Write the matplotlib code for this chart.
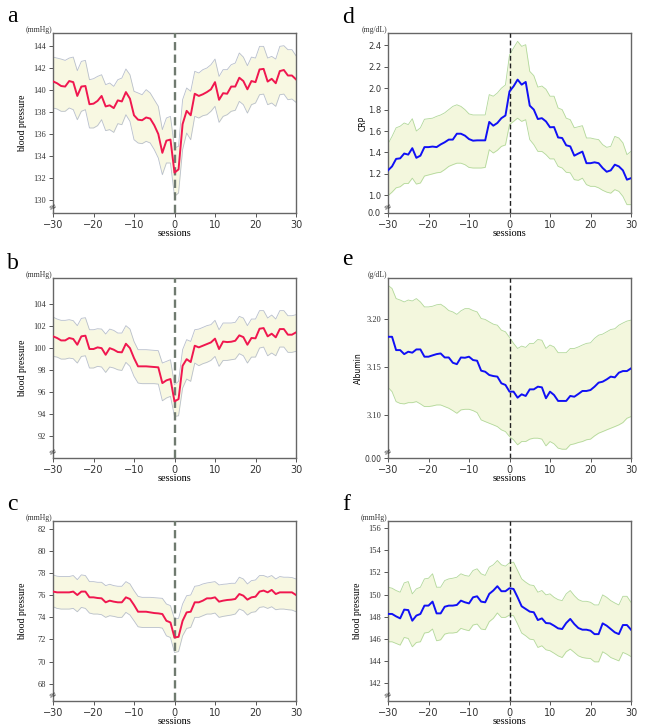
import numpy as np
import matplotlib
matplotlib.use('Agg')
import matplotlib.pyplot as plt

sessions = np.arange(-30, 31)

# panel a
a_mean = [140.77,140.6,140.35,140.3,140.8,140.7,139.45,140.3,140.35,138.7,
          138.75,139.0,139.45,138.5,138.6,138.35,139.05,138.95,139.8,139.2,
          137.7,137.3,137.25,137.5,137.4,136.8,136.0,134.3,135.4,135.5,
          132.5,132.8,136.9,138.1,137.7,139.65,139.45,139.6,139.8,140.05,
          140.7,139.1,139.7,139.65,140.3,140.3,141.1,140.8,140.05,140.8,
          140.7,141.85,141.9,140.75,141.0,140.6,141.7,141.8,141.3,141.3,140.95]
a_hi = [142.97,142.88,142.79,142.67,142.88,142.97,141.74,142.58,142.67,140.92,
        141.01,141.22,141.37,140.47,140.62,140.32,140.92,141.07,141.89,141.37,
        139.87,139.72,139.56,140.02,139.72,139.11,138.51,136.40,137.45,137.60,
        134.74,134.89,139.11,140.17,139.87,141.68,141.53,141.83,141.98,142.28,
        142.79,141.22,141.83,141.83,142.28,142.43,143.34,142.97,142.19,142.97,
        142.88,143.94,143.94,142.88,143.03,142.79,143.94,144.0,143.64,143.64,143.09]
a_lo = [138.36,138.27,138.06,138.06,138.36,138.21,137.30,138.06,138.21,136.55,
        136.55,136.76,137.30,136.31,136.40,136.15,136.94,136.85,137.75,137.15,
        135.49,135.19,135.13,135.34,135.19,134.59,133.83,132.32,133.38,133.38,
        130.36,130.66,134.59,136.09,135.49,137.60,137.45,137.66,137.75,138.06,
        138.51,137.06,137.60,137.75,138.06,138.15,138.96,138.66,137.90,138.66,
        138.81,139.56,139.62,138.66,138.81,138.51,139.56,139.62,139.11,139.17,138.87]

# panel b
b_mean = [101.07,100.92,100.7,100.7,100.92,100.83,100.31,101.07,101.13,99.92,
          99.92,100.07,100.0,99.4,100.0,99.86,99.65,99.62,100.4,100.0,
          99.1,98.35,98.35,98.35,98.32,98.29,98.26,96.83,97.08,97.2,
          95.17,95.38,98.4,99.0,98.74,100.22,100.07,100.22,100.37,100.52,
          100.86,99.92,100.6,100.55,100.58,100.67,101.16,101.0,100.31,100.92,
          100.89,101.76,101.82,101.07,101.31,100.98,101.73,101.73,101.22,101.22,101.43]
b_hi = [102.82,102.64,102.52,102.52,102.58,102.49,102.04,102.70,102.76,101.67,
        101.67,101.76,101.73,101.28,101.73,101.61,101.37,101.37,102.04,101.73,
        100.61,99.86,99.86,99.86,99.83,99.80,99.77,98.65,98.80,98.95,
        96.68,96.99,99.86,100.77,100.61,101.67,101.73,101.88,102.04,102.13,
        102.52,101.67,102.28,102.28,102.28,102.34,102.88,102.73,102.04,102.64,
        102.64,103.40,103.40,102.73,103.0,102.64,103.40,103.40,102.94,102.94,103.03]
b_lo = [99.25,99.19,99.01,99.01,99.10,99.04,98.65,99.25,99.31,98.20,
        98.20,98.35,98.29,97.80,98.29,98.20,98.04,97.98,98.71,98.35,
        97.44,96.84,96.78,96.78,96.78,96.78,96.74,95.23,95.48,95.63,
        93.81,93.87,96.38,97.20,96.99,98.65,98.41,98.59,98.71,98.89,
        99.25,98.35,98.89,98.89,98.95,99.01,99.50,99.31,98.65,99.19,
        99.19,100.01,100.10,99.31,99.56,99.31,100.10,100.10,99.62,99.62,99.71]

# panel c
c_mean = [76.32,76.25,76.25,76.25,76.25,76.32,76.01,76.32,76.32,75.80,
          75.80,75.74,75.71,75.35,75.50,75.41,75.35,75.35,75.80,75.65,
          75.11,74.50,74.50,74.50,74.44,74.38,74.35,74.29,73.68,73.53,
          72.17,72.23,73.68,74.44,74.50,75.35,75.35,75.50,75.71,75.71,
          75.80,75.41,75.50,75.56,75.59,75.65,76.10,75.95,75.59,75.80,
          75.86,76.32,76.41,76.25,76.47,76.10,76.25,76.25,76.25,76.25,76.01]
c_hi = [77.83,77.71,77.68,77.68,77.68,77.77,77.40,77.83,77.77,77.22,
        77.22,77.16,77.16,76.86,76.98,76.86,76.80,76.80,77.22,77.01,
        76.41,75.89,75.80,75.80,75.80,75.77,75.74,75.71,75.20,75.05,
        73.84,73.90,75.20,75.95,76.01,76.80,76.86,77.01,77.10,77.16,
        77.22,76.92,76.98,77.01,77.07,77.07,77.62,77.46,77.01,77.31,
        77.37,77.77,77.77,77.62,77.77,77.46,77.68,77.62,77.62,77.59,77.46]
c_lo = [74.95,74.80,74.74,74.74,74.74,74.80,74.50,74.89,74.80,74.38,
        74.29,74.29,74.23,73.99,74.14,74.08,73.99,73.99,74.44,74.20,
        73.68,73.14,73.08,73.08,73.08,73.08,73.08,73.02,72.32,72.17,
        70.81,70.90,72.32,72.99,73.08,73.99,73.99,74.14,74.29,74.29,
        74.38,73.99,74.08,74.14,74.20,74.29,74.74,74.59,74.20,74.44,
        74.50,74.89,74.95,74.80,74.95,74.68,74.74,74.74,74.68,74.65,74.50]

# panel d
d_mean = [1.233,1.27,1.34,1.345,1.39,1.38,1.44,1.35,1.37,1.45,
          1.45,1.455,1.45,1.475,1.495,1.52,1.52,1.575,1.575,1.557,
          1.525,1.51,1.513,1.513,1.513,1.685,1.65,1.675,1.72,1.745,
          1.97,2.017,2.08,2.033,2.058,1.837,1.8,1.712,1.72,1.69,
          1.635,1.637,1.54,1.535,1.467,1.457,1.37,1.39,1.408,1.30,
          1.30,1.308,1.30,1.255,1.22,1.233,1.286,1.27,1.233,1.146,1.16]
d_hi = [1.48,1.55,1.63,1.645,1.675,1.66,1.715,1.6,1.63,1.71,
        1.715,1.72,1.737,1.75,1.77,1.8,1.83,1.845,1.83,1.8,
        1.76,1.75,1.75,1.75,1.75,1.94,1.925,1.955,2.0,2.03,
        2.31,2.375,2.437,2.39,2.406,2.157,2.117,2.01,2.02,1.99,
        1.925,1.925,1.815,1.8,1.72,1.706,1.63,1.64,1.65,1.535,
        1.535,1.526,1.52,1.473,1.448,1.457,1.55,1.535,1.49,1.38,1.41]
d_lo = [0.997,1.03,1.07,1.08,1.11,1.11,1.16,1.105,1.115,1.18,
        1.19,1.2,1.21,1.215,1.24,1.27,1.286,1.30,1.30,1.286,
        1.26,1.255,1.255,1.255,1.26,1.426,1.395,1.42,1.457,1.47,
        1.66,1.69,1.72,1.69,1.706,1.52,1.473,1.41,1.41,1.38,
        1.34,1.34,1.27,1.255,1.215,1.21,1.146,1.14,1.16,1.1,
        1.084,1.084,1.07,1.047,1.03,1.02,1.053,1.037,0.99,0.913,0.913]

# panel e
e_mean = [3.1816,3.1816,3.1677,3.1677,3.1635,3.166,3.165,3.1684,3.1684,3.1608,
          3.1608,3.1622,3.1635,3.1642,3.16,3.16,3.1545,3.153,3.16,3.1597,
          3.1608,3.1573,3.1566,3.1462,3.1451,3.1417,3.1406,3.14,3.133,3.1313,
          3.1243,3.1243,3.118,3.1215,3.1198,3.1267,3.1267,3.1295,3.1288,3.1174,
          3.1243,3.1208,3.1146,3.1146,3.1146,3.1198,3.119,3.1219,3.125,3.125,
          3.126,3.1295,3.1337,3.1347,3.1371,3.14,3.1392,3.1441,3.1458,3.1458,3.1486]
e_hi = [3.2354,3.232,3.2215,3.22,3.218,3.22,3.219,3.2215,3.218,3.2128,
        3.2128,3.2135,3.215,3.2156,3.2128,3.209,3.2076,3.205,3.2087,3.211,
        3.211,3.209,3.2076,3.2007,3.1997,3.1972,3.1948,3.1937,3.1885,3.1868,
        3.1809,3.1747,3.1694,3.1719,3.1705,3.1747,3.1747,3.1788,3.178,3.1694,
        3.173,3.171,3.165,3.165,3.165,3.1694,3.1694,3.171,3.173,3.1747,
        3.1753,3.18,3.1833,3.1844,3.1868,3.1892,3.19,3.1937,3.196,3.198,3.199]
e_lo = [3.1288,3.1243,3.1139,3.112,3.1115,3.1128,3.1128,3.1139,3.1115,3.1087,
        3.1087,3.1094,3.1104,3.1104,3.1087,3.107,3.1045,3.1017,3.1052,3.1059,
        3.1059,3.1045,3.1024,3.0948,3.093,3.0913,3.0896,3.0878,3.0844,3.0826,
        3.0774,3.074,3.0688,3.0722,3.0722,3.0747,3.0757,3.0757,3.0747,3.0677,
        3.0722,3.0698,3.0653,3.0642,3.0642,3.0688,3.0698,3.0712,3.0722,3.074,
        3.0747,3.0781,3.0809,3.0826,3.0844,3.0861,3.0878,3.0896,3.092,3.0965,3.0983]

# panel f
f_mean = [148.25,148.25,148.03,147.85,148.64,148.6,147.64,148.1,148.25,149.0,
          149.0,149.36,148.3,148.3,148.9,149.0,149.0,149.06,149.45,149.3,
          149.2,149.75,149.84,149.36,149.3,150.06,150.36,150.75,150.3,150.3,
          150.57,150.5,149.75,148.94,148.7,148.46,148.4,147.7,147.85,147.43,
          147.4,147.19,146.95,146.89,147.43,147.8,147.34,146.98,146.83,146.83,
          146.74,146.43,146.43,147.4,147.19,146.89,146.59,146.43,147.25,147.25,146.83]
f_hi = [150.66,150.57,150.36,150.21,151.05,151.17,150.06,150.51,150.66,151.41,
        151.47,151.87,150.66,150.66,151.26,151.41,151.47,151.56,151.87,151.72,
        151.65,152.17,152.32,151.87,151.72,152.47,152.68,153.07,152.68,152.56,
        152.86,152.92,152.17,151.41,151.11,150.87,150.81,150.21,150.36,149.97,
        150.06,149.75,149.54,149.45,150.06,150.36,149.90,149.54,149.39,149.39,
        149.30,149.06,149.06,149.97,149.75,149.45,149.24,149.06,149.84,149.84,149.30]
f_lo = [145.74,145.74,145.59,145.44,146.13,146.04,145.29,145.68,145.74,146.53,
        146.59,146.89,145.83,145.92,146.43,146.53,146.53,146.59,146.95,146.83,
        146.74,147.25,147.34,146.89,146.83,147.55,147.85,148.34,147.94,147.94,
        148.15,148.09,147.34,146.53,146.28,145.98,145.92,145.23,145.38,145.02,
        144.93,144.71,144.47,144.32,144.84,145.08,144.78,144.47,144.32,144.26,
        144.23,143.93,143.93,144.84,144.62,144.32,144.17,144.02,144.78,144.62,144.41]

SERIF = 'Liberation Serif'
SANS = 'DejaVu Sans'

fig = plt.figure(figsize=(6.5, 7.26), dpi=100)

W, H = 650.0, 726.0
def axes_at(left, top):
    return fig.add_axes([left / W, 1 - (top + 180) / H, 243 / W, 180 / H])

def draw_panel(ax, mean, lo, hi, ylim, yticks, ylabels, ylabel, unit, red=True,
               ytick_font=SERIF, ylabel_font=SERIF, ylabel_size=7, sans_first=False):
    if red:
        fill_c, edge_c, line_c = '#f8f8e2', '#b8bfcc', '#f0174f'
        vl_c, vl_w, vl_dash = '#6f7a6f', 1.7, (3.5, 1.8)
    else:
        fill_c, edge_c, line_c = '#f3f7dd', '#b2d89a', '#1010f5'
        vl_c, vl_w, vl_dash = '#222222', 1.0, (3.5, 2)
    ax.fill_between(sessions, lo, hi, color=fill_c, lw=0, zorder=1)
    ax.plot(sessions, hi, color=edge_c, lw=0.6, zorder=2)
    ax.plot(sessions, lo, color=edge_c, lw=0.6, zorder=2)
    ax.plot(sessions, mean, color=line_c, lw=1.4, zorder=4)
    ax.axvline(0, color=vl_c, lw=vl_w, dashes=vl_dash, zorder=3)

    ax.set_xlim(-30, 30)
    ax.set_ylim(*ylim)
    ax.set_xticks([-30, -20, -10, 0, 10, 20, 30])
    ax.set_xticklabels(['\u221230', '\u221220', '\u221210', '0', '10', '20', '30'],
                       fontsize=7, family=SANS, color='#333333')
    ax.set_yticks(yticks)
    ax.set_yticklabels(ylabels, fontsize=6, family=ytick_font, color='#333333')
    if sans_first:
        ax.get_yticklabels()[0].set_family(SANS)
        ax.get_yticklabels()[0].set_fontsize(5.5)
    ax.tick_params(axis='both', direction='out', length=3, width=0.7,
                   color='#555555', pad=2)
    for s in ax.spines.values():
        s.set_color('#666666')
        s.set_linewidth(1.0)
    ax.set_xlabel('sessions', fontsize=7.5, family=SERIF, labelpad=-1)
    ax.set_ylabel(ylabel, fontsize=ylabel_size, family=ylabel_font)
    ax.yaxis.set_label_coords(-0.105, 0.5)
    ax.text(-0.005, 1.015, unit, transform=ax.transAxes, ha='right', va='center',
            fontsize=5.5, family=SERIF, color='#333333')
    # axis break mark
    ax.text(0.0, 0.035, '\u2248', transform=ax.transAxes, ha='center', va='center',
            fontsize=7, rotation=25, family=SANS, color='#333333', clip_on=False, zorder=6)

ax_a = axes_at(53, 33)
draw_panel(ax_a, a_mean, a_lo, a_hi, (128.85, 145.15), list(range(130, 145, 2)),
           [str(v) for v in range(130, 145, 2)], 'blood pressure', '(mmHg)')

ax_b = axes_at(53, 278)
draw_panel(ax_b, b_mean, b_lo, b_hi, (90.04, 106.36), list(range(92, 105, 2)),
           [str(v) for v in range(92, 105, 2)], 'blood pressure', '(mmHg)')

ax_c = axes_at(53, 521)
draw_panel(ax_c, c_mean, c_lo, c_hi, (66.43, 82.7), list(range(68, 83, 2)),
           [str(v) for v in range(68, 83, 2)], 'blood pressure', '(mmHg)')

d_ticks = [0.835, 1.0, 1.2, 1.4, 1.6, 1.8, 2.0, 2.2, 2.4]
d_labels = ['0.0', '1.0', '1.2', '1.4', '1.6', '1.8', '2.0', '2.2', '2.4']
ax_d = axes_at(388, 33)
draw_panel(ax_d, d_mean, d_lo, d_hi, (0.835, 2.515), d_ticks, d_labels, 'CRP',
           '(mg/dL)', red=False, ytick_font=SANS, ylabel_font=SANS, ylabel_size=5.5)
ax_d.yaxis.set_label_coords(-0.085, 0.5)

e_ticks = [3.055, 3.10, 3.15, 3.20]
e_labels = ['0.00', '3.10', '3.15', '3.20']
ax_e = axes_at(388, 278)
draw_panel(ax_e, e_mean, e_lo, e_hi, (3.055, 3.243), e_ticks, e_labels, 'Albumin',
           '(g/dL)', red=False, ylabel_font=SANS, ylabel_size=5.5, sans_first=True)

ax_f = axes_at(388, 521)
draw_panel(ax_f, f_mean, f_lo, f_hi, (140.4, 156.63), list(range(142, 157, 2)),
           [str(v) for v in range(142, 157, 2)], 'blood pressure', '(mmHg)', red=False)

# panel letters
for letter, x, y in [('a', 7, 22), ('b', 7, 269), ('c', 7, 510),
                     ('d', 342, 23), ('e', 342, 265), ('f', 342, 510)]:
    fig.text(x / W, 1 - y / H, letter, fontsize=17, family=SERIF, va='baseline')

plt.savefig('out.png', dpi=100)
